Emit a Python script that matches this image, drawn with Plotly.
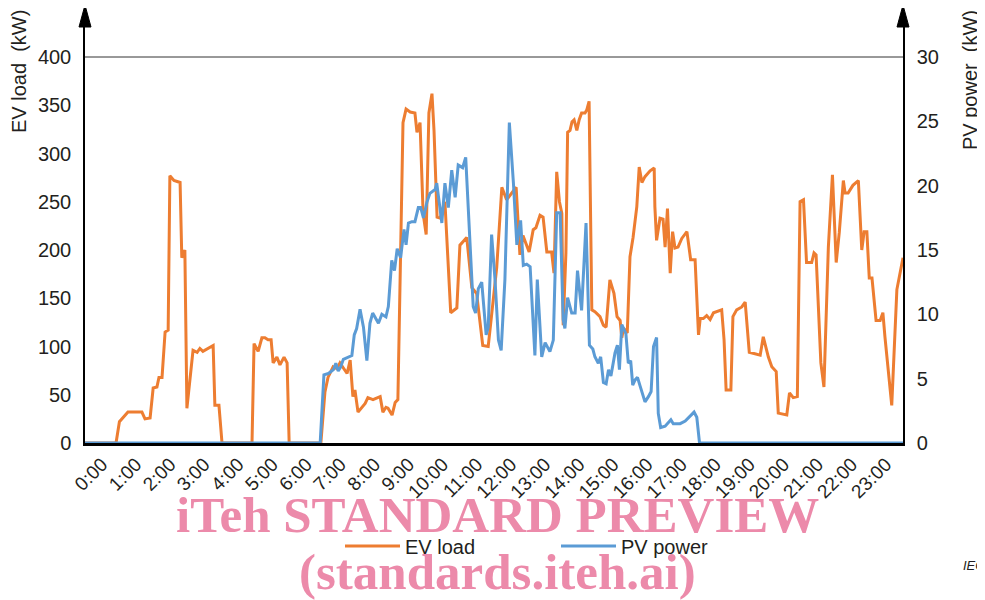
import plotly.graph_objects as go

# ---------------- data ----------------
# time of day in hours, EV load in kW
ev_time = [0.00, 0.91, 1.01, 1.17, 1.26, 1.47, 1.67, 1.76, 1.91, 2.00, 2.11, 2.17, 2.26, 2.35, 2.44,
           2.49, 2.61, 2.79, 2.84, 2.93, 2.99, 3.17, 3.29, 3.37, 3.46, 3.76, 3.81, 3.93, 4.02, 4.90,
           4.96, 5.08, 5.19, 5.28, 5.37, 5.46, 5.52, 5.63, 5.72, 5.84, 5.93, 5.99, 6.92, 7.04, 7.13,
           7.28, 7.39, 7.48, 7.60, 7.69, 7.78, 7.86, 7.92, 8.01, 8.22, 8.30, 8.45, 8.66, 8.74, 8.83,
           8.89, 9.01, 9.10, 9.18, 9.33, 9.42, 9.54, 9.68, 9.74, 9.83, 9.92, 10.01, 10.09, 10.18, 10.24,
           10.33, 10.42, 10.56, 10.73, 10.91, 11.00, 11.20, 11.35, 11.49, 11.67, 11.83, 12.08, 12.23, 12.37,
           12.65, 12.76, 12.85, 13.03, 13.15, 13.23, 13.35, 13.44, 13.55, 13.69, 13.76, 13.84, 13.92, 13.99,
           14.03, 14.11, 14.16, 14.23, 14.29, 14.35, 14.43, 14.50, 14.57, 14.67, 14.72, 14.79, 14.82, 14.87,
           14.96, 15.11, 15.21, 15.29, 15.40, 15.52, 15.61, 15.70, 15.75, 15.80, 15.91, 15.99, 16.08, 16.19,
           16.26, 16.34, 16.43, 16.58, 16.70, 16.72, 16.77, 16.87, 16.96, 17.02, 17.09, 17.17, 17.24, 17.31,
           17.40, 17.51, 17.66, 17.77, 17.90, 18.00, 18.05, 18.14, 18.24, 18.34, 18.44, 18.68, 18.75, 18.81,
           18.95, 19.01, 19.12, 19.27, 19.37, 19.49, 19.81, 19.90, 20.05, 20.15, 20.28, 20.34, 20.59, 20.67,
           20.78, 20.90, 20.98, 21.08, 21.17, 21.32, 21.39, 21.45, 21.59, 21.68, 21.81, 21.93, 22.04, 22.13,
           22.25, 22.30, 22.39, 22.53, 22.69, 22.79, 22.86, 22.94, 23.01, 23.09, 23.21, 23.33, 23.41, 23.47,
           23.67, 23.82, 24.00]
ev_load = [0, 0, 22, 28, 32, 32, 32, 25, 26, 57, 58, 68, 68, 115, 117,
           277, 272, 270, 192, 200, 36, 96, 94, 98, 95, 101, 39, 39, 0, 0,
           103, 95, 109, 109, 107, 107, 83, 89, 81, 89, 83, 0, 0, 53, 68,
           79, 77, 83, 76, 72, 86, 48, 55, 32, 41, 47, 45, 48, 32, 37,
           36, 29, 42, 45, 332, 346, 343, 342, 322, 332, 238, 216, 342, 362, 324,
           234, 233, 250, 135, 140, 205, 213, 161, 155, 101, 100, 182, 265, 252,
           265, 195, 215, 198, 221, 223, 236, 234, 198, 198, 176, 281, 250, 238,
           122, 197, 322, 324, 333, 335, 324, 335, 342, 342, 345, 354, 290, 138,
           136, 131, 122, 120, 169, 155, 131, 127, 109, 119, 114, 193, 213, 245,
           286, 270, 276, 282, 285, 245, 210, 233, 232, 203, 243, 176, 219, 202,
           203, 212, 219, 190, 190, 112, 129, 129, 132, 128, 135, 138, 107, 55,
           55, 131, 138, 141, 146, 94, 91, 110, 89, 79, 74, 31, 29, 52,
           47, 48, 250, 252, 187, 187, 197, 195, 83, 58, 203, 278, 187, 218,
           272, 259, 259, 267, 272, 200, 219, 219, 171, 171, 127, 127, 135, 110,
           39, 159, 192]

# time of day in hours, PV power in kW
pv_time = [0.00, 6.90, 7.01, 7.14, 7.29, 7.36, 7.43, 7.50, 7.58, 7.68, 7.83, 7.90, 7.97, 8.07, 8.17,
           8.27, 8.36, 8.44, 8.54, 8.61, 8.71, 8.83, 8.90, 9.00, 9.08, 9.16, 9.26, 9.36, 9.42, 9.49,
           9.59, 9.68, 9.78, 9.85, 9.93, 10.03, 10.12, 10.27, 10.32, 10.47, 10.56, 10.66, 10.76, 10.86, 10.95,
           11.08, 11.17, 11.30, 11.39, 11.46, 11.54, 11.64, 11.71, 11.77, 11.83, 11.93, 12.03, 12.13, 12.21,
           12.32, 12.45, 12.57, 12.67, 12.78, 12.86, 12.96, 13.06, 13.20, 13.27, 13.40, 13.50, 13.64, 13.74,
           13.84, 13.94, 14.03, 14.08, 14.16, 14.28, 14.38, 14.45, 14.57, 14.70, 14.80, 14.90, 14.96, 15.06,
           15.13, 15.21, 15.29, 15.36, 15.43, 15.55, 15.62, 15.68, 15.75, 15.87, 15.94, 16.01, 16.07, 16.14,
           16.21, 16.29, 16.43, 16.53, 16.61, 16.68, 16.77, 16.82, 16.89, 17.02, 17.19, 17.26, 17.46, 17.61,
           17.73, 17.87, 17.95, 18.03, 24.00]
pv_power = [0, 0, 5.3, 5.4, 5.7, 6.2, 5.6, 5.9, 6.5, 6.6, 6.8, 8.4, 8.9, 10.4, 9.0,
            6.4, 9.3, 10.1, 9.6, 9.3, 10.0, 9.8, 10.6, 14.2, 13.4, 15.1, 14.4, 16.6, 15.4, 17.1,
            17.2, 17.2, 18.3, 18.3, 17.5, 18.7, 19.4, 19.7, 20.2, 17.1, 20.2, 18.3, 21.2, 19.1, 21.6,
            21.4, 22.2, 14.8, 10.6, 10.1, 12.0, 12.5, 10.1, 8.4, 9.0, 16.2, 12.7, 8.0, 7.2,
            12.7, 24.9, 20.2, 15.4, 17.3, 13.8, 13.9, 13.7, 6.8, 12.7, 6.7, 7.8, 7.1, 8.0,
            17.9, 17.9, 9.6, 8.9, 11.3, 10.1, 10.1, 13.4, 10.3, 17.1, 7.6, 7.3, 6.7, 6.2,
            6.7, 4.7, 4.6, 5.7, 5.2, 7.0, 7.6, 5.7, 9.2, 8.5, 6.2, 6.4, 4.5, 4.9,
            5.1, 4.4, 3.2, 3.6, 4.0, 7.5, 8.2, 2.3, 1.2, 1.3, 1.8, 1.5, 1.5, 1.7,
            2.0, 2.4, 2.0, 0, 0]

hour_labels = ["0:00", "1:00", "2:00", "3:00", "4:00", "5:00", "6:00", "7:00", "8:00", "9:00",
               "10:00", "11:00", "12:00", "13:00", "14:00", "15:00", "16:00", "17:00", "18:00",
               "19:00", "20:00", "21:00", "22:00", "23:00"]
ev_ticks = [0, 50, 100, 150, 200, 250, 300, 350, 400]
pv_ticks = [0, 5, 10, 15, 20, 25, 30]

# ---------------- styling ----------------
FONT = "Liberation Sans, Arial, sans-serif"
ORANGE = "#ED7D31"
BLUE = "#5B9BD5"
PINK = "#EC8AAA"
TEXT = "#231F20"

# The page body has an 8px margin; target screen positions are converted to figure positions.
OFF = 8
W, H = 985, 600
SCR_L, SCR_R, SCR_T, SCR_B = 85, 903, 20, 443   # plot area on screen
L = SCR_L - OFF
R = W - (SCR_R - OFF)
T = SCR_T - OFF
B = H - (SCR_B - OFF)
plot_h = SCR_B - SCR_T
plot_w = SCR_R - SCR_L
ev_top = 400 * plot_h / 386.0
pv_top = 30 * plot_h / 386.0

def py(pix):  # screen row -> paper y
    return (SCR_B - pix) / plot_h

def px(pix):  # screen column -> paper x
    return (pix - SCR_L) / plot_w

fig = go.Figure()
fig.add_trace(go.Scatter(x=ev_time, y=ev_load, name="EV load", mode="lines",
                         line=dict(color=ORANGE, width=3), yaxis="y"))
fig.add_trace(go.Scatter(x=pv_time, y=pv_power, name="PV power", mode="lines",
                         line=dict(color=BLUE, width=3), yaxis="y2"))

tick_pos = [i + 0.5 for i in range(len(hour_labels))]

fig.update_layout(
    template="none",
    width=W, height=H,
    margin=dict(l=L, r=R, t=T, b=B, autoexpand=False),
    paper_bgcolor="white", plot_bgcolor="white",
    font=dict(family=FONT, color=TEXT, size=19),
    showlegend=True,
    legend=dict(orientation="h", x=px(340), xanchor="left", y=py(546), yanchor="middle",
                font=dict(size=20, color=TEXT), itemwidth=55, entrywidth=146,
                entrywidthmode="pixels", bgcolor="rgba(0,0,0,0)"),
    xaxis=dict(range=[0, 24], tickvals=tick_pos, ticktext=hour_labels, tickangle=-45,
               showgrid=False, zeroline=False, showline=True, linecolor="black", linewidth=2.5,
               ticks="", tickfont=dict(size=19), layer="below traces", fixedrange=True),
    yaxis=dict(range=[0, ev_top], tickvals=ev_ticks, showgrid=False, zeroline=False,
               showline=True, linecolor="black", linewidth=1.5, ticks="",
               ticklabelstandoff=8, tickfont=dict(size=20), layer="below traces"),
    yaxis2=dict(range=[0, pv_top], tickvals=pv_ticks, overlaying="y", side="right",
                showgrid=False, zeroline=False, showline=True, linecolor="black", linewidth=1.5,
                ticks="", ticklabelstandoff=8, tickfont=dict(size=20)),
)

shapes = [
    # top reference line at 400 kW / 30 kW
    dict(type="line", xref="paper", yref="y", x0=0, x1=1, y0=400, y1=400,
         line=dict(color="#333333", width=1), layer="below"),
    # axis arrowheads
    dict(type="path", xref="paper", yref="paper",
         path=f"M {px(79)},{py(27)} L {px(85)},{py(5)} L {px(91)},{py(27)} Z",
         fillcolor="black", line=dict(color="black", width=1)),
    dict(type="path", xref="paper", yref="paper",
         path=f"M {px(897)},{py(27)} L {px(903)},{py(5)} L {px(909)},{py(27)} Z",
         fillcolor="black", line=dict(color="black", width=1)),
]
fig.update_layout(shapes=shapes)

SERIF = "Liberation Serif, Times New Roman, serif"
annotations = [
    dict(text="EV load\u00a0 (kW)", xref="paper", yref="paper", x=px(19), y=py(72),
         textangle=-90, showarrow=False, font=dict(size=20, color=TEXT),
         xanchor="center", yanchor="middle"),
    dict(text="PV power\u00a0 (kW)", xref="paper", yref="paper", x=px(970), y=py(80),
         textangle=-90, showarrow=False, font=dict(size=20, color=TEXT),
         xanchor="center", yanchor="middle"),
    dict(text="<b>iTeh STANDARD PREVIEW</b>", xref="paper", yref="paper", x=px(497), y=py(515),
         showarrow=False, font=dict(family=SERIF, size=51, color=PINK),
         xanchor="center", yanchor="middle"),
    dict(text="<b>(standards.iteh.ai)</b>", xref="paper", yref="paper", x=px(497), y=py(572),
         showarrow=False, font=dict(family=SERIF, size=51, color=PINK),
         xanchor="center", yanchor="middle"),
    dict(text="<i>IEC</i>", xref="paper", yref="paper", x=px(961), y=py(565),
         showarrow=False, font=dict(size=13, color=TEXT), xanchor="left", yanchor="middle"),
]
fig.update_layout(annotations=annotations)

fig.write_html("out.html")
